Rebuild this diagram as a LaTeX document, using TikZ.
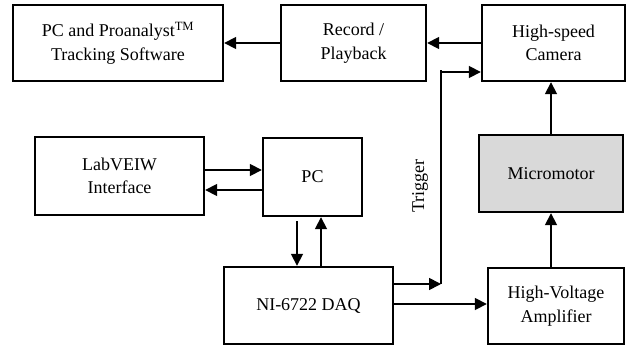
\documentclass[tikz,border=0pt]{standalone}
\usepackage{fontspec}
\setmainfont{Liberation Serif}
\usetikzlibrary{arrows.meta}

\begin{document}
\begin{tikzpicture}[x=1pt, y=-1pt,
  every node/.style={font=\fontsize{18}{23.5}\selectfont},
  block/.style={draw, line width=2.4pt, align=center, inner sep=0pt, minimum height=76pt},
  arr/.style={line width=1.7pt, -{Triangle[length=12pt, width=12pt]}},
  wire/.style={line width=1.7pt}]

  \useasboundingbox (0,0) rectangle (634,350);

  % Top row: software, recorder, camera
  \node[block, minimum width=210pt] (soft) at (118,43) {PC and Proanalyst\textsuperscript{TM}\\Tracking Software};
  \node[block, minimum width=145pt] (rec) at (353.5,43) {Record /\\Playback};
  \node[block, minimum width=143pt] (cam) at (553.5,43) {High-speed\\Camera};

  % Middle row: LabVEIW, PC, micromotor
  \node[block, minimum width=169pt, minimum height=78pt] (lab) at (119.5,176) {LabVEIW\\Interface};
  \node[block, minimum width=99pt, minimum height=78pt] (pc) at (312.5,177) {PC};
  \node[block, minimum width=144pt, minimum height=77pt, fill=gray!30] (motor) at (551,173.5) {Micromotor};

  % Bottom row: DAQ and amplifier
  \node[block, minimum width=169pt, minimum height=77pt] (daq) at (308.5,305.5) {NI-6722 DAQ};
  \node[block, minimum width=136pt] (amp) at (556,306) {High-Voltage\\Amplifier};

  % Video path
  \draw[arr] (rec.west) -- (soft.east);
  \draw[arr] (cam.west) -- (rec.east);

  % LabVEIW <-> PC
  \draw[arr] (lab.east |- 0,170) -- (pc.west |- 0,170);
  \draw[arr] (pc.west |- 0,190) -- (lab.east |- 0,190);

  % PC <-> DAQ
  \draw[arr] (297,221) -- (daq.north -| 297,0);
  \draw[arr] (daq.north -| 321,0) -- (pc.south -| 321,0);

  % Trigger line to camera
  \coordinate (trig) at (441,284);
  \coordinate (trigtop) at (441,70);
  \draw[arr] (daq.east |- trig) -- (trig);
  \draw[wire] (trig) -- (trigtop);
  \draw[arr] (441,72) -- (cam.west |- 0,72);
  \node[rotate=90] (triglabel) at (420,186) {Trigger};

  % Drive chain
  \draw[arr] (daq.east |- 0,304) -- (amp.west |- 0,304);
  \draw[arr] (amp.north -| 551,0) -- (motor.south);
  \draw[arr] (motor.north) -- (cam.south -| 551,0);

\end{tikzpicture}
\end{document}
